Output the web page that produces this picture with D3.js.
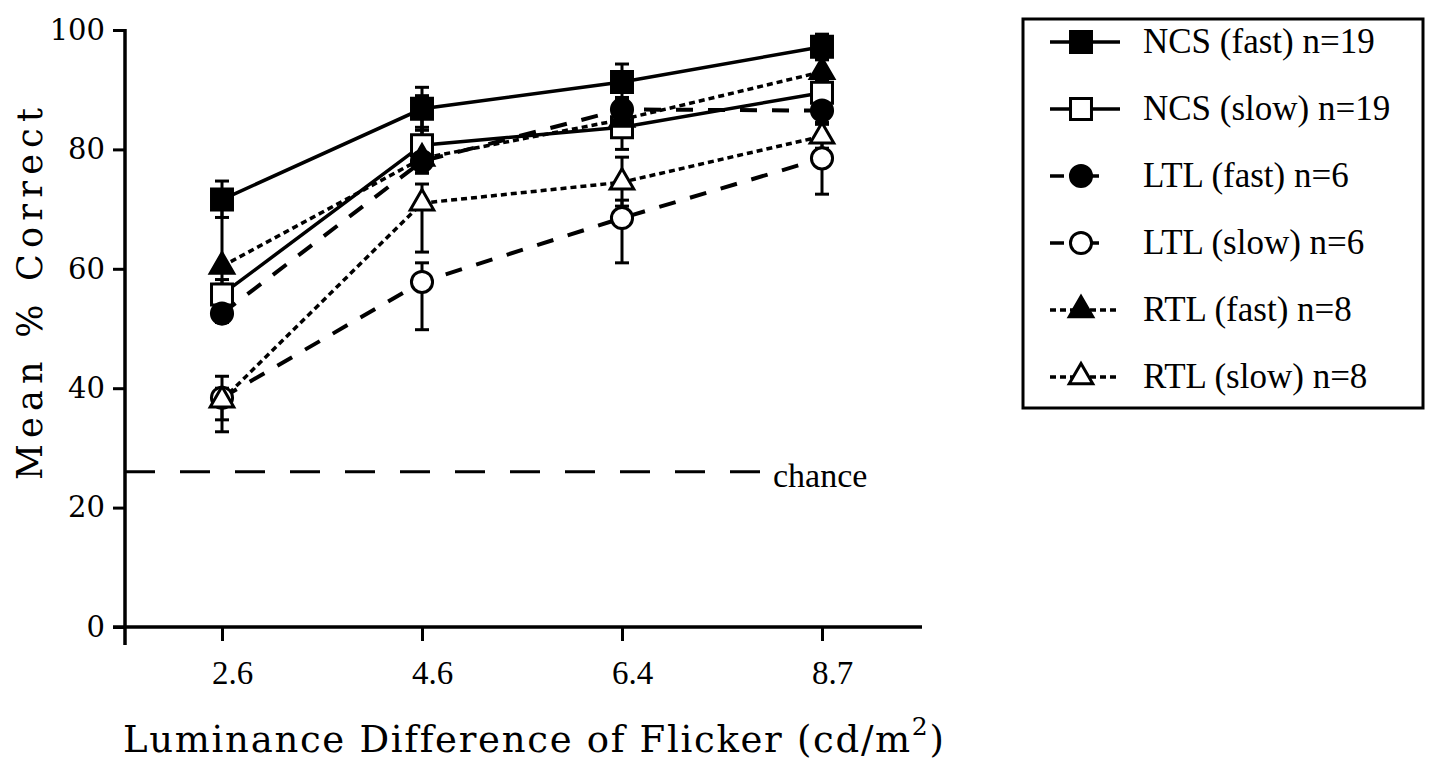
<!DOCTYPE html>
<html>
<head>
<meta charset="utf-8">
<script src="https://cdn.jsdelivr.net/npm/d3@7"></script>
<style>
  html, body { margin: 0; padding: 0; background: #fff; }
  svg { display: block; }
</style>
</head>
<body>
<svg id="chart" width="1429" height="772"></svg>
<script>
// ---------------- data ----------------
const categories = ["2.6", "4.6", "6.4", "8.7"];
const yTicks = [0, 20, 40, 60, 80, 100];
const chanceLevel = 26;

const ncsFast = [71.6, 86.8, 91.3, 97.2];
const ncsFastErrUp = [3.1, 3.6, 3.0, 2.1];
const ncsFastErrDown = [3.0, 3.6, 3.0, 2.0];

const ncsSlow = [55.7, 80.7, 83.7, 89.5];
const ncsSlowErrUp = [2.5, 3.0, 3.0, 2.0];
const ncsSlowErrDown = [2.5, 3.0, 3.7, 2.0];

const ltlFast = [52.5, 78.0, 86.7, 86.5];
const ltlFastErrUp = [1.5, 11.0, 2.0, 2.0];
const ltlFastErrDown = [1.5, 2.0, 2.0, 2.0];

const ltlSlow = [38.4, 57.8, 68.5, 78.5];
const ltlSlowErrUp = [3.6, 3.2, 3.0, 3.0];
const ltlSlowErrDown = [5.7, 8.0, 7.5, 6.0];

const rtlFast = [60.4, 78.5, 85.0, 93.0];
const rtlFastErrUp = [11.0, 10.0, 2.0, 2.0];
const rtlFastErrDown = [3.0, 2.0, 2.0, 2.0];

const rtlSlow = [38.0, 71.0, 74.5, 82.2];
const rtlSlowErrUp = [2.0, 3.2, 4.2, 2.0];
const rtlSlowErrDown = [3.3, 8.2, 4.0, 2.0];

const legendLabels = ["NCS (fast) n=19", "NCS (slow) n=19", "LTL (fast) n=6",
                      "LTL (slow) n=6", "RTL (fast) n=8", "RTL (slow) n=8"];

// ---------------- styles ----------------
const lineStyles = {
  solid: { dash: null, width: 3.5 },
  dashed: { dash: "17,15", width: 4 },
  dotted: { dash: "6,4", width: 3.5 }
};

const series = [
  { label: legendLabels[0], values: ncsFast, up: ncsFastErrUp, down: ncsFastErrDown, shape: "square", filled: true, line: "solid" },
  { label: legendLabels[1], values: ncsSlow, up: ncsSlowErrUp, down: ncsSlowErrDown, shape: "square", filled: false, line: "solid" },
  { label: legendLabels[2], values: ltlFast, up: ltlFastErrUp, down: ltlFastErrDown, shape: "circle", filled: true, line: "dashed" },
  { label: legendLabels[3], values: ltlSlow, up: ltlSlowErrUp, down: ltlSlowErrDown, shape: "circle", filled: false, line: "dashed" },
  { label: legendLabels[4], values: rtlFast, up: rtlFastErrUp, down: rtlFastErrDown, shape: "triangle", filled: true, line: "dotted" },
  { label: legendLabels[5], values: rtlSlow, up: rtlSlowErrUp, down: rtlSlowErrDown, shape: "triangle", filled: false, line: "dotted" }
];

// ---------------- scales ----------------
const svg = d3.select("#chart");
const x = d3.scalePoint().domain(categories).range([122, 922]).padding(0.5);
const y = d3.scaleLinear().domain([0, 100]).range([627, 30]);
const axisX = 125;

const symbolType = { square: d3.symbolSquare, circle: d3.symbolCircle, triangle: d3.symbolTriangle };
const symbolSize = { square: 440, circle: 350, triangle: 240 };
function symbolPath(shape) {
  return d3.symbol().type(symbolType[shape]).size(symbolSize[shape])();
}

// ---------------- axes ----------------
const gy = svg.append("g").attr("transform", `translate(${axisX},0)`)
  .call(d3.axisLeft(y).tickValues(yTicks).tickSize(12).tickPadding(8).tickFormat(d3.format("d")));
gy.select(".domain").remove();
gy.selectAll(".tick line").attr("stroke", "#000").attr("stroke-width", 3);
gy.selectAll(".tick text").attr("font-family", "'DejaVu Serif', serif").attr("font-size", 29).attr("fill", "#000");

const gx = svg.append("g").attr("transform", `translate(0,${y(0)})`)
  .call(d3.axisBottom(x).tickSize(14).tickPadding(20));
gx.select(".domain").remove();
gx.selectAll(".tick line").attr("stroke", "#000").attr("stroke-width", 3);
gx.selectAll(".tick text").attr("font-family", "'Liberation Serif', serif").attr("font-size", 33)
  .attr("fill", "#000").attr("dx", 10);

// axis lines
svg.append("line").attr("x1", axisX).attr("x2", axisX).attr("y1", y(100) - 1).attr("y2", 645)
  .attr("stroke", "#000").attr("stroke-width", 3.5);
svg.append("line").attr("x1", 113).attr("x2", 922).attr("y1", y(0)).attr("y2", y(0))
  .attr("stroke", "#000").attr("stroke-width", 3.5);

// chance line
svg.append("line").attr("x1", axisX).attr("x2", 760).attr("y1", y(chanceLevel)).attr("y2", y(chanceLevel))
  .attr("stroke", "#000").attr("stroke-width", 3).attr("stroke-dasharray", "30,25");
svg.append("text").attr("x", 773).attr("y", y(chanceLevel) + 15)
  .attr("font-family", "'Liberation Serif', serif").attr("font-size", 34).text("chance");

// axis titles
svg.append("text")
  .attr("transform", `translate(42,294) rotate(-90)`)
  .attr("text-anchor", "middle")
  .attr("font-family", "'DejaVu Serif', serif").attr("font-size", 35)
  .attr("textLength", 372).attr("lengthAdjust", "spacing")
  .text("Mean % Correct");

const xt = svg.append("text").attr("x", 123).attr("y", 752)
  .attr("font-family", "'DejaVu Serif', serif").attr("font-size", 37)
  .attr("letter-spacing", 1.7);
xt.append("tspan").text("Luminance Difference of Flicker (cd/m");
xt.append("tspan").attr("font-size", 25).attr("dy", -17).text("2");
xt.append("tspan").attr("dy", 17).text(")");

// ---------------- data lines ----------------
const lineGen = d3.line().x((d, i) => x(categories[i])).y(d => y(d));
const plot = svg.append("g");
series.forEach(s => {
  const st = lineStyles[s.line];
  plot.append("path").attr("d", lineGen(s.values)).attr("fill", "none")
    .attr("stroke", "#000").attr("stroke-width", st.width)
    .attr("stroke-dasharray", st.dash);
});

// error bars
series.forEach(s => {
  s.values.forEach((v, i) => {
    const cx = x(categories[i]);
    const top = y(v + s.up[i]), bot = y(v - s.down[i]);
    const g = plot.append("g").attr("stroke", "#000").attr("stroke-width", 3);
    g.append("line").attr("x1", cx).attr("x2", cx).attr("y1", top).attr("y2", bot);
    g.append("line").attr("x1", cx - 7).attr("x2", cx + 7).attr("y1", top).attr("y2", top);
    g.append("line").attr("x1", cx - 7).attr("x2", cx + 7).attr("y1", bot).attr("y2", bot);
  });
});

// markers
series.forEach(s => {
  plot.selectAll(null).data(s.values).enter().append("path")
    .attr("d", symbolPath(s.shape))
    .attr("transform", (d, i) => `translate(${x(categories[i])},${y(d)})`)
    .attr("fill", s.filled ? "#000" : "#fff")
    .attr("stroke", "#000").attr("stroke-width", 3);
});

// ---------------- legend ----------------
const lg = svg.append("g");
lg.append("rect").attr("x", 1023).attr("y", 19).attr("width", 400).attr("height", 389)
  .attr("fill", "#fff").attr("stroke", "#000").attr("stroke-width", 3);

const legendLine = {
  solid: { x2: 1120, dash: null },
  dashed: { x2: 1099, dash: "14,28,8" },
  dotted: { x2: 1117, dash: "6,4" }
};
series.forEach((s, i) => {
  const cy = 42 + i * 67;
  const ll = legendLine[s.line];
  lg.append("line").attr("x1", 1050).attr("x2", ll.x2).attr("y1", cy).attr("y2", cy)
    .attr("stroke", "#000").attr("stroke-width", 3.5).attr("stroke-dasharray", ll.dash);
  lg.append("path").attr("d", symbolPath(s.shape))
    .attr("transform", `translate(1081,${cy})`)
    .attr("fill", s.filled ? "#000" : "#fff").attr("stroke", "#000").attr("stroke-width", 3);
  lg.append("text").attr("x", 1143).attr("y", cy + 11)
    .attr("font-family", "'Liberation Serif', serif").attr("font-size", 35)
    .text(s.label);
});
</script>
</body>
</html>
